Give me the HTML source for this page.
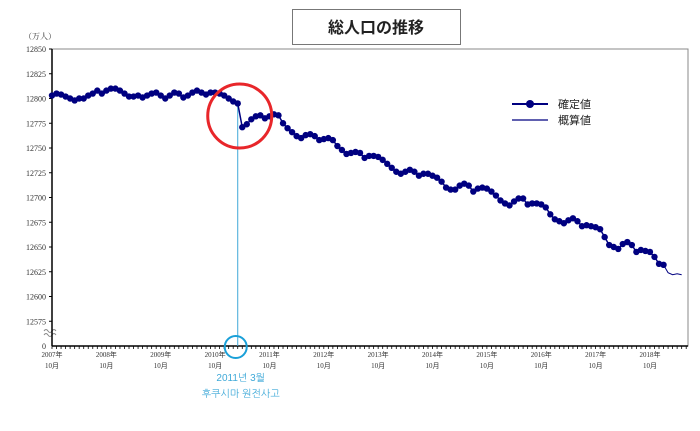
<!DOCTYPE html>
<html><head><meta charset="utf-8"><style>
body{margin:0;background:#fff;width:700px;height:426px;overflow:hidden;font-family:"Liberation Serif","Noto Serif CJK SC",serif}
svg text{font-family:"Liberation Serif","Noto Sans CJK JP",serif}
</style></head><body>
<svg id="chart" width="700" height="426" xmlns="http://www.w3.org/2000/svg">
<rect x="292.5" y="9.5" width="168" height="35" fill="#fff" stroke="#777" stroke-width="1"/>
<text x="376" y="33" text-anchor="middle" font-size="16" font-weight="bold" fill="#222" style="font-family:'Noto Sans CJK JP',sans-serif">総人口の推移</text>
<text x="24" y="39" font-size="8" fill="#333" style="font-family:'Noto Serif CJK SC',serif">（万人）</text>
<rect x="52" y="49" width="636" height="297" fill="none" stroke="#888" stroke-width="1"/>
<g id="ylab"></g><g id="xax"></g><g id="series"></g>
<g>
<line x1="512" y1="104" x2="548" y2="104" stroke="#000080" stroke-width="2"/>
<circle cx="530" cy="104" r="4" fill="#000080"/>
<text x="558" y="108" font-size="11" fill="#222" style="font-family:'Noto Sans CJK JP',sans-serif">確定値</text>
<line x1="512" y1="120" x2="548" y2="120" stroke="#000080" stroke-width="1.2"/>
<text x="558" y="124" font-size="11" fill="#222" style="font-family:'Noto Sans CJK JP',sans-serif">概算値</text>
</g>
</svg>
<script>
const startYear = 2007, startMonth = 10;
const values = [
12803,12805,12804,12802,12800,12798,12800,12800,12803,12805,12808,12805,
12808,12810,12810,12808,12805,12802,12802,12803,12801,12803,12805,12806,
12803,12800,12803,12806,12805,12801,12803,12806,12808,12806,12804,12806,
12806,12805,12803,12800,12797,12795,12771,12774,12779,12782,12783,12780,
12782,12784,12783,12775,12770,12766,12762,12760,12763,12764,12762,12758,
12759,12760,12758,12752,12748,12744,12745,12746,12745,12740,12742,12742,
12741,12738,12734,12730,12726,12724,12726,12728,12726,12722,12724,12724,
12722,12720,12716,12710,12708,12708,12712,12714,12712,12706,12709,12710,
12709,12706,12702,12697,12694,12692,12696,12699,12699,12693,12694,12694,
12693,12690,12683,12678,12676,12674,12677,12679,12676,12671,12672,12671,
12670,12668,12660,12652,12650,12648,12653,12655,12652,12645,12647,12646,
12645,12640,12633,12632,12624,12622,12623,12622];
const confirmedCount = 136;
const yTicks = [12850,12825,12800,12775,12750,12725,12700,12675,12650,12625,12600,12575];
const xYears = [2007,2008,2009,2010,2011,2012,2013,2014,2015,2016,2017,2018];
const NS="http://www.w3.org/2000/svg";
const x0=52, mpx=4.53;
const X=i=>x0+i*mpx;
const Y=v=>49+(12850-v)*0.99;
function mk(t,a,p){const e=document.createElementNS(NS,t);for(const k in a)e.setAttribute(k,a[k]);p.appendChild(e);return e;}
const yl=document.getElementById('ylab');
yTicks.forEach(v=>{
 const t=mk('text',{x:46,y:Y(v)+3,'text-anchor':'end','font-size':8,fill:'#333'},yl);
 
 
 t.textContent=v;
 mk('line',{x1:49,x2:52,y1:Y(v),y2:Y(v),stroke:'#000'},yl);
});
const z=mk('text',{x:46,y:349,'text-anchor':'end','font-size':8,fill:'#333'},yl);


z.textContent='0';
const br=mk('path',{d:'M44 335 q2 -3 4 0 t4 0 t4 0 M44 331 q2 -3 4 0 t4 0 t4 0',fill:'none',stroke:'#888','stroke-width':1},yl);


mk('line',{x1:52,x2:52,y1:49,y2:346,stroke:'#000','stroke-width':1.5},yl);
const xa=document.getElementById('xax');
mk('line',{x1:52,x2:688,y1:346,y2:346,stroke:'#000','stroke-width':1.5},xa);
for(let i=0;X(i)<=688;i++) mk('line',{x1:X(i),x2:X(i),y1:346,y2:349,stroke:'#000','stroke-width':0.8},xa);
xYears.forEach((yr,k)=>{
 const i=(yr-startYear)*12+(10-startMonth);
 const t=mk('text',{x:X(i),y:357,'text-anchor':'middle','font-size':7,fill:'#333'},xa);
 
 
 t.textContent=yr+'年';
 const t2=mk('text',{x:X(i),y:368,'text-anchor':'middle','font-size':7,fill:'#333'},xa);
 
 
 t2.textContent='10月';
});
const s=document.getElementById('series');
const quakeIdx=(2011-startYear)*12+(3-startMonth);
const vl=mk('line',{x1:X(quakeIdx),x2:X(quakeIdx),y1:Y(values[quakeIdx-1]),y2:346,stroke:'#3fa9d8','stroke-width':1},s);


let d1='',d2='';
values.forEach((v,i)=>{ if(i<confirmedCount) d1+=(i?'L':'M')+X(i)+' '+Y(v); if(i>=confirmedCount-1) d2+=(i==confirmedCount-1?'M':'L')+X(i)+' '+Y(v);});
const p1=mk('path',{d:d1,fill:'none',stroke:'#000080','stroke-width':1.5},s);


const p2=mk('path',{d:d2,fill:'none',stroke:'#000080','stroke-width':1},s);


values.slice(0,confirmedCount).forEach((v,i)=>{
 const c=mk('circle',{cx:X(i),cy:Y(v),r:3.2,fill:'#000080'},s);
 
 
});
const rc=mk('circle',{cx:X(quakeIdx)+2,cy:116,r:32,fill:'none',stroke:'#e8262a','stroke-width':3},s);


const bc=mk('circle',{cx:X(quakeIdx)-2,cy:347,r:11,fill:'none',stroke:'#1aa0d8','stroke-width':2},s);


const a1=mk('text',{x:X(quakeIdx)+3,y:381,'text-anchor':'middle','font-size':10,fill:'#3fa9d8'},s);


a1.style.fontFamily="'Liberation Sans','NanumGothic',sans-serif";
a1.textContent='2011년 3월';
const a2=mk('text',{x:X(quakeIdx)+3,y:397,'text-anchor':'middle','font-size':10,fill:'#3fa9d8'},s);


a2.style.fontFamily="'Liberation Sans','NanumGothic',sans-serif";
a2.textContent='후쿠시마 원전사고';
</script>
</body></html>
